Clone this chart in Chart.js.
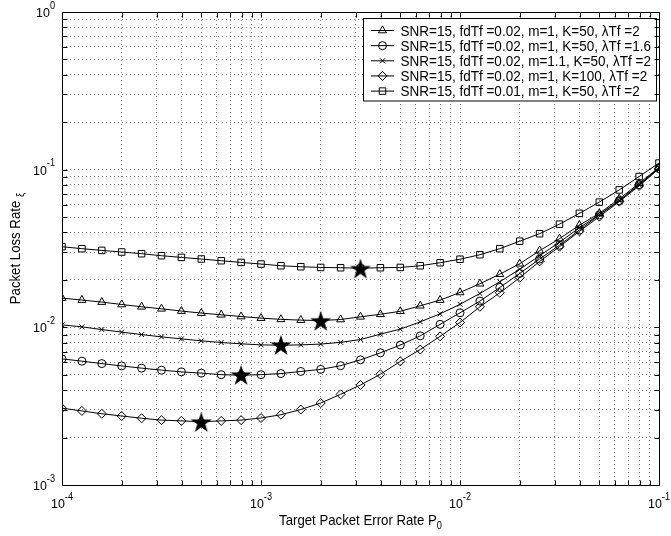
<!DOCTYPE html>
<html>
<head>
<meta charset="utf-8">
<script src="https://cdn.jsdelivr.net/npm/chart.js@4.4.1/dist/chart.umd.min.js"></script>
<style>
  html, body { margin: 0; padding: 0; background: #fff; }
</style>
</head>
<body>
<canvas id="lossChart" width="671" height="536"></canvas>
<script>
// target packet error rate P0 (x axis)
const pe = [
    1.000e-4, 1.259e-4, 1.585e-4, 1.995e-4, 2.512e-4, 3.162e-4, 3.981e-4, 5.012e-4, 6.310e-4, 7.943e-4,
    1.000e-3, 1.259e-3, 1.585e-3, 1.995e-3, 2.512e-3, 3.162e-3, 3.981e-3, 5.012e-3, 6.310e-3, 7.943e-3,
    1.000e-2, 1.259e-2, 1.585e-2, 1.995e-2, 2.512e-2, 3.162e-2, 3.981e-2, 5.012e-2, 6.310e-2, 7.943e-2,
    1.000e-1
];

// packet loss rate for each parameter set
const lossBase = [0.01533, 0.01489, 0.01446, 0.01396, 0.01350, 0.01311, 0.01268, 0.01231, 0.01201, 0.01171,
    0.01144, 0.01124, 0.01111, 0.01104, 0.01121, 0.01166, 0.01210, 0.01264, 0.01370, 0.01489,
    0.01664, 0.01890, 0.02172, 0.02532, 0.03062, 0.03650, 0.04446, 0.05284, 0.06524, 0.08197, 0.1031];
const lossLambda16 = [0.00631, 0.00610, 0.00589, 0.00569, 0.00551, 0.00535, 0.00522, 0.00512, 0.00501, 0.00497,
    0.00501, 0.00509, 0.00525, 0.00541, 0.00571, 0.00622, 0.00689, 0.00772, 0.00883, 0.01045,
    0.01236, 0.01467, 0.01790, 0.02197, 0.02712, 0.03319, 0.04145, 0.05161, 0.06364, 0.08041, 0.1016];
const lossM11 = [0.01037, 0.01007, 0.00968, 0.00932, 0.00900, 0.00870, 0.00845, 0.00821, 0.00801, 0.00786,
    0.00774, 0.00770, 0.00774, 0.00783, 0.00803, 0.00837, 0.00905, 0.00974, 0.01083, 0.01218,
    0.01400, 0.01640, 0.01946, 0.02335, 0.02846, 0.03467, 0.04286, 0.05184, 0.06364, 0.08041, 0.1024];
const lossK100 = [0.00307, 0.00295, 0.00283, 0.00274, 0.00265, 0.00258, 0.00255, 0.00252, 0.00255, 0.00258,
    0.00266, 0.00279, 0.00301, 0.00331, 0.00376, 0.00431, 0.00504, 0.00608, 0.00723, 0.00877,
    0.01073, 0.01350, 0.01656, 0.02063, 0.02618, 0.03247, 0.04061, 0.05035, 0.06270, 0.07886, 0.1016];
const lossFd001 = [0.03247, 0.03154, 0.03076, 0.03004, 0.02931, 0.02846, 0.02776, 0.02712, 0.02645, 0.02580,
    0.02520, 0.02458, 0.02423, 0.02398, 0.02388, 0.02370, 0.02388, 0.02398, 0.02458, 0.02569,
    0.02704, 0.02888, 0.03154, 0.03519, 0.03926, 0.04512, 0.05284, 0.06224, 0.07439, 0.09042, 0.1101];

// optimum operating points (filled stars)
const optX = [3.162e-3, 1.995e-3, 1.259e-3, 7.943e-4, 5.012e-4];
const optY = [0.0236, 0.0110, 0.00774, 0.00499, 0.00251];

const seriesNames = [
    "SNR=15, fdTf =0.02, m=1, K=50, \u03bbTf =2",
    "SNR=15, fdTf =0.02, m=1, K=50, \u03bbTf =1.6",
    "SNR=15, fdTf =0.02, m=1.1, K=50, \u03bbTf =2",
    "SNR=15, fdTf =0.02, m=1, K=100, \u03bbTf =2",
    "SNR=15, fdTf =0.01, m=1, K=50, \u03bbTf =2"
];

const xDecades = [-4, -3, -2, -1];
const yDecades = [-3, -2, -1, 0];

const FONT = '"Liberation Sans", Arial, Helvetica, sans-serif';

function gridValues(decades) {
    let vals = [];
    for (let i = 0; i < decades.length; i++) {
        const base = Math.pow(10, decades[i]);
        if (i === decades.length - 1) {
            vals.push(base);
            break;
        }
        for (let m = 1; m <= 9; m++) {
            vals.push(m * base);
        }
    }
    return vals;
}

function makeStar(r) {
    const c = document.createElement('canvas');
    const s = Math.ceil(r * 2 + 2);
    c.width = s;
    c.height = s;
    const g = c.getContext('2d');
    g.fillStyle = '#000';
    g.beginPath();
    for (let i = 0; i < 10; i++) {
        const rad = i % 2 ? r * 0.382 : r;
        const ang = -Math.PI / 2 + i * Math.PI / 5;
        g.lineTo(s / 2 + rad * Math.cos(ang), s / 2 + 1 + rad * Math.sin(ang));
    }
    g.closePath();
    g.fill();
    return c;
}

// text squeezed a little horizontally, like the original figure font
function putText(ctx, str, x, y, size, sx, align) {
    ctx.font = size + 'px ' + FONT;
    const w = ctx.measureText(str).width * sx;
    let left = x;
    if (align === 'center') left = x - w / 2;
    if (align === 'right') left = x - w;
    ctx.save();
    ctx.translate(left, y);
    ctx.scale(sx, 1);
    ctx.textAlign = 'left';
    ctx.textBaseline = 'alphabetic';
    ctx.fillStyle = '#000';
    ctx.fillText(str, 0, 0);
    ctx.restore();
    return w;
}

function textWidth(ctx, str, size, sx) {
    ctx.font = size + 'px ' + FONT;
    return ctx.measureText(str).width * sx;
}

function toPoints(ys) {
    return ys.map((v, i) => ({x: pe[i], y: v}));
}

const markerStyles = [
    {pointStyle: 'triangle', pointRadius: 4.6},
    {pointStyle: 'circle', pointRadius: 4},
    {pointStyle: 'crossRot', pointRadius: 3.5},
    {pointStyle: 'rectRot', pointRadius: 4.5},
    {pointStyle: 'rect', pointRadius: 4.6}
];
const seriesData = [lossBase, lossLambda16, lossM11, lossK100, lossFd001];

let datasets = seriesData.map((d, i) => ({
    label: seriesNames[i],
    data: toPoints(d),
    borderColor: '#000',
    borderWidth: 1,
    pointStyle: markerStyles[i].pointStyle,
    pointRadius: markerStyles[i].pointRadius,
    pointBorderColor: '#000',
    pointBackgroundColor: 'rgba(0,0,0,0)',
    pointBorderWidth: 1,
    tension: 0,
    fill: false,
    order: 1
}));

datasets.push({
    label: 'optimum',
    data: optX.map((v, i) => ({x: v, y: optY[i]})),
    showLine: false,
    pointStyle: makeStar(11),
    pointRadius: 11,
    order: 0
});

const framePlugin = {
    id: 'frame',
    afterDatasetsDraw(chart) {
        const ctx = chart.ctx;
        const a = chart.chartArea;
        const xs = chart.scales.x;
        const ys = chart.scales.y;

        // legend box
        const lx = 363.5, ly = 18.5, lw = 293, lh = 82.5;
        ctx.save();
        ctx.fillStyle = '#fff';
        ctx.fillRect(lx, ly, lw, lh);
        ctx.strokeStyle = '#000';
        ctx.lineWidth = 1;
        ctx.strokeRect(lx, ly, lw, lh);
        for (let i = 0; i < seriesNames.length; i++) {
            const rowY = 30.5 + i * 15.15;
            ctx.beginPath();
            ctx.moveTo(371, rowY);
            ctx.lineTo(394, rowY);
            ctx.stroke();
            ctx.fillStyle = 'rgba(0,0,0,0)';
            Chart.helpers.drawPoint(ctx, {
                pointStyle: markerStyles[i].pointStyle,
                radius: markerStyles[i].pointRadius,
                borderWidth: 1,
                rotation: 0
            }, 382.5, rowY);
            putText(ctx, seriesNames[i], 400.5, rowY + 5, 14, 0.965, 'left');
        }
        ctx.restore();

        // axes box with inward ticks
        ctx.save();
        ctx.strokeStyle = '#000';
        ctx.lineWidth = 1;
        const L = Math.round(a.left) + 0.5, R = Math.round(a.right) + 0.5;
        const T = Math.round(a.top) + 0.5, B = Math.round(a.bottom) + 0.5;
        ctx.strokeRect(L, T, R - L, B - T);
        ctx.beginPath();
        xs.ticks.forEach(t => {
            const px = Math.round(xs.getPixelForValue(t.value)) + 0.5;
            ctx.moveTo(px, B); ctx.lineTo(px, B - 5);
            ctx.moveTo(px, T); ctx.lineTo(px, T + 5);
        });
        ys.ticks.forEach(t => {
            const py = Math.round(ys.getPixelForValue(t.value)) + 0.5;
            ctx.moveTo(L, py); ctx.lineTo(L + 5, py);
            ctx.moveTo(R, py); ctx.lineTo(R - 5, py);
        });
        ctx.stroke();

        // tick labels 10^n
        xDecades.forEach(e => {
            const px = xs.getPixelForValue(Math.pow(10, e));
            const w1 = textWidth(ctx, '10', 13.5, 0.92);
            const w2 = textWidth(ctx, String(e), 10, 0.92);
            const start = px - (w1 + w2) / 2;
            putText(ctx, '10', start, a.bottom + 23, 13.5, 0.92, 'left');
            putText(ctx, String(e), start + w1, a.bottom + 14.5, 10, 0.92, 'left');
        });
        yDecades.forEach(e => {
            const py = ys.getPixelForValue(Math.pow(10, e));
            const w1 = textWidth(ctx, '10', 13.5, 0.92);
            const w2 = textWidth(ctx, String(e), 10, 0.92);
            const start = 55 - (w1 + w2);
            putText(ctx, '10', start, py + 5, 13.5, 0.92, 'left');
            putText(ctx, String(e), start + w1, py - 3.5, 10, 0.92, 'left');
        });

        // axis titles
        const xt = 'Target Packet Error Rate P';
        const xw = textWidth(ctx, xt, 15, 0.88) + textWidth(ctx, '0', 10.5, 0.88);
        const xStart = (a.left + a.right) / 2 - xw / 2;
        const xw1 = putText(ctx, xt, xStart, 525, 15, 0.88, 'left');
        putText(ctx, '0', xStart + xw1, 529, 10.5, 0.88, 'left');

        ctx.translate(20, (a.top + a.bottom) / 2);
        ctx.rotate(-Math.PI / 2);
        const yt = 'Packet Loss Rate ';
        const yw = textWidth(ctx, yt, 15, 0.88) + textWidth(ctx, '\u03be', 11, 0.88);
        const yw1 = putText(ctx, yt, -yw / 2, 0, 15, 0.88, 'left');
        putText(ctx, '\u03be', -yw / 2 + yw1, 3.5, 11, 0.88, 'left');
        ctx.restore();
    }
};

const gridStyle = {color: 'rgba(0,0,0,0.5)', lineWidth: 1, drawTicks: false};

new Chart(document.getElementById('lossChart'), {
    type: 'line',
    data: {datasets: datasets},
    options: {
        responsive: false,
        animation: false,
        layout: {padding: {left: 62, right: 10, top: 12, bottom: 51}},
        plugins: {
            legend: {display: false},
            tooltip: {enabled: false}
        },
        scales: {
            x: {
                type: 'logarithmic',
                min: 1e-4,
                max: 1e-1,
                ticks: {display: false},
                grid: gridStyle,
                border: {display: false, dash: [1, 3]},
                afterBuildTicks: function (scale) {
                    scale.ticks = gridValues(xDecades).map(v => ({value: v}));
                }
            },
            y: {
                type: 'logarithmic',
                min: 1e-3,
                max: 1,
                ticks: {display: false},
                grid: gridStyle,
                border: {display: false, dash: [1, 3]},
                afterBuildTicks: function (scale) {
                    scale.ticks = gridValues(yDecades).map(v => ({value: v}));
                }
            }
        }
    },
    plugins: [framePlugin]
});
</script>
</body>
</html>
